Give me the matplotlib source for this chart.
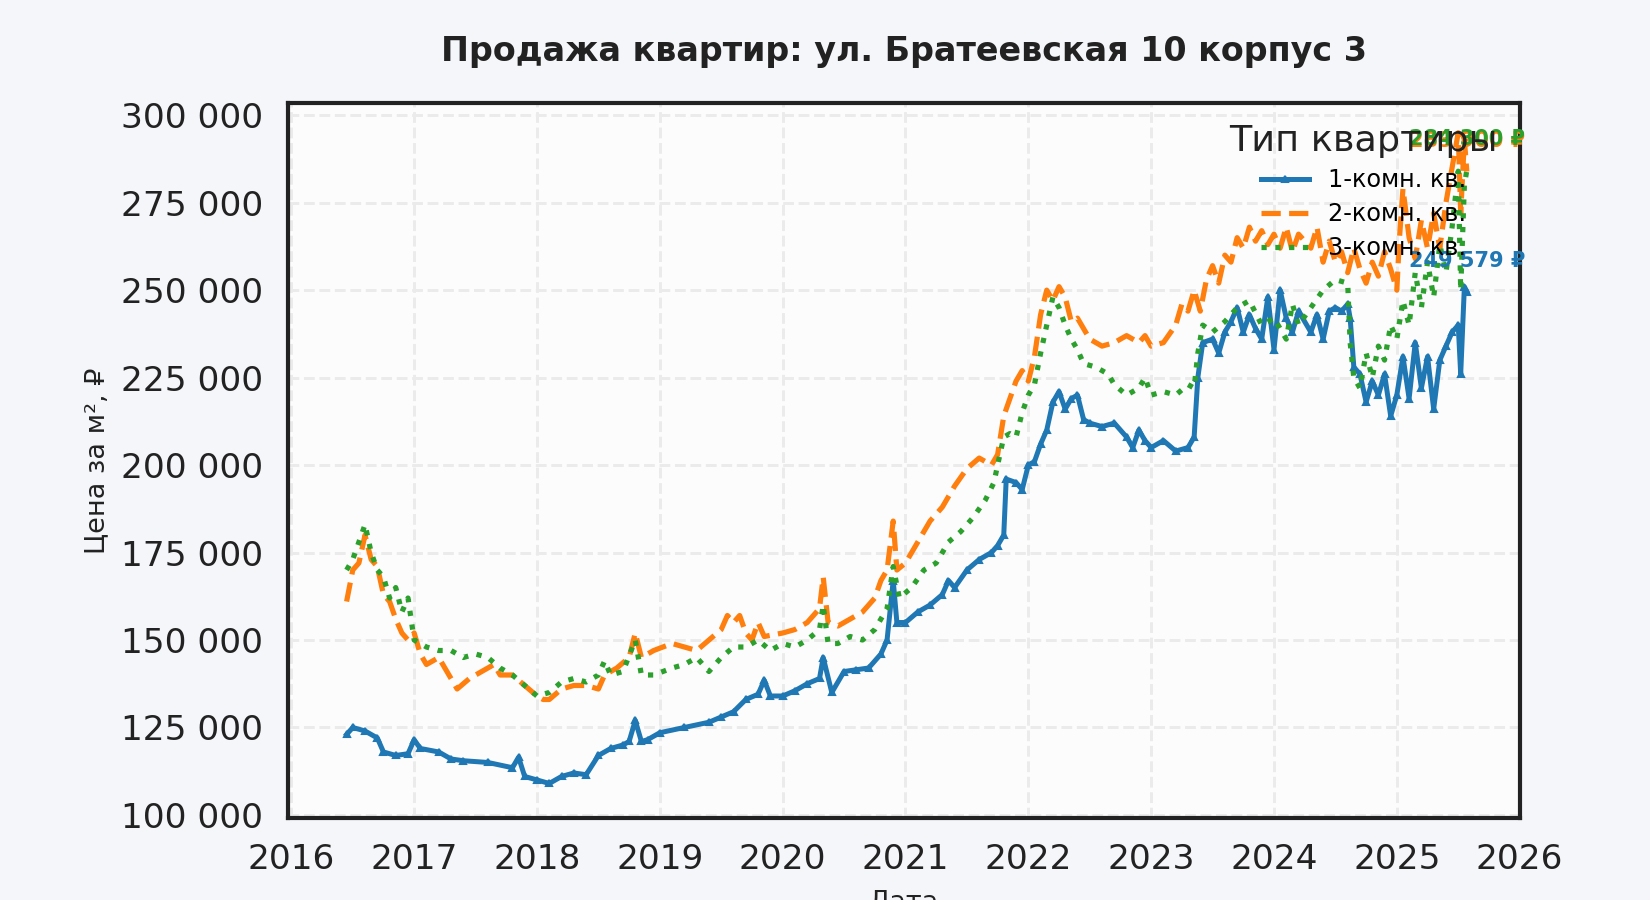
import matplotlib
matplotlib.use("Agg")
import matplotlib.pyplot as plt
from matplotlib.ticker import FuncFormatter, MultipleLocator

# даты в долях года
t1 = [2016.45, 2016.5, 2016.6, 2016.7, 2016.75, 2016.85, 2016.95, 2017.0, 2017.05, 2017.2,
      2017.3, 2017.4, 2017.6, 2017.8, 2017.85, 2017.9, 2018.0, 2018.1, 2018.2, 2018.3,
      2018.4, 2018.5, 2018.6, 2018.7, 2018.75, 2018.8, 2018.85, 2018.9, 2019.0, 2019.2,
      2019.4, 2019.5, 2019.6, 2019.7, 2019.8, 2019.85, 2019.9, 2020.0, 2020.1, 2020.2,
      2020.3, 2020.33, 2020.4, 2020.5, 2020.6, 2020.7, 2020.8, 2020.85, 2020.9, 2020.93,
      2021.0, 2021.1, 2021.2, 2021.3, 2021.35, 2021.4, 2021.5, 2021.6, 2021.7, 2021.75,
      2021.8, 2021.82, 2021.9, 2021.95, 2022.0, 2022.05, 2022.1, 2022.15, 2022.2, 2022.25,
      2022.3, 2022.35, 2022.4, 2022.45, 2022.5, 2022.6, 2022.7, 2022.8, 2022.85, 2022.9,
      2022.95, 2023.0, 2023.1, 2023.2, 2023.3, 2023.35, 2023.38, 2023.42, 2023.5, 2023.55,
      2023.6, 2023.65, 2023.7, 2023.75, 2023.8, 2023.85, 2023.9, 2023.95, 2024.0, 2024.05,
      2024.1, 2024.15, 2024.2, 2024.3, 2024.35, 2024.4, 2024.45, 2024.5, 2024.55, 2024.6,
      2024.62, 2024.65, 2024.7, 2024.75, 2024.8, 2024.85, 2024.9, 2024.95, 2025.0, 2025.05,
      2025.1, 2025.15, 2025.2, 2025.25, 2025.3, 2025.35, 2025.4, 2025.45, 2025.5, 2025.52,
      2025.55, 2025.57]
room1 = [123000, 125000, 124000, 122000, 118000, 117000, 117500, 121500, 119000, 118000,
         116000, 115500, 115000, 113500, 116500, 111000, 110000, 109000, 111000, 112000,
         111500, 117000, 119000, 120000, 121000, 127000, 121000, 121500, 123500, 125000,
         126500, 128000, 129500, 133000, 134500, 138500, 134000, 134000, 135500, 137500,
         139000, 145000, 135000, 141000, 141500, 142000, 146000, 150000, 167000, 155000,
         155000, 158000, 160000, 163000, 167000, 165000, 170000, 173000, 175000, 177000,
         180000, 196000, 195000, 193000, 200000, 201000, 206000, 210000, 218000, 221000,
         216000, 219000, 220000, 213000, 212000, 211000, 212000, 208000, 205000, 210000,
         207000, 205000, 207000, 204000, 205000, 208000, 225000, 235000, 236000, 232000,
         238000, 241000, 245000, 238000, 243000, 239000, 236000, 248000, 233000, 250000,
         242000, 238000, 244000, 238000, 243000, 236000, 244000, 245000, 244000, 246000,
         242000, 228000, 226000, 218000, 224000, 220000, 226000, 214000, 220000, 231000,
         219000, 235000, 222000, 231000, 216000, 230000, 234000, 238000, 240000, 226000,
         251000, 249579]

t2 = [2016.45, 2016.5, 2016.55, 2016.6, 2016.65, 2016.7, 2016.75, 2016.8, 2016.85, 2016.9,
      2016.95, 2017.0, 2017.05, 2017.1, 2017.2, 2017.3, 2017.35, 2017.45, 2017.55, 2017.65,
      2017.7, 2017.8, 2017.9, 2018.0, 2018.05, 2018.1, 2018.2, 2018.3, 2018.4, 2018.5,
      2018.55, 2018.65, 2018.75, 2018.8, 2018.85, 2018.95, 2019.1, 2019.2, 2019.3, 2019.4,
      2019.5, 2019.55, 2019.6, 2019.65, 2019.7, 2019.75, 2019.8, 2019.85, 2020.0, 2020.1,
      2020.2, 2020.3, 2020.33, 2020.37, 2020.45, 2020.55, 2020.65, 2020.75, 2020.8, 2020.85,
      2020.9, 2020.93, 2021.0, 2021.1, 2021.2, 2021.3, 2021.4, 2021.5, 2021.6, 2021.7,
      2021.75, 2021.8, 2021.85, 2021.9, 2021.95, 2022.0, 2022.05, 2022.1, 2022.15, 2022.2,
      2022.25, 2022.3, 2022.35, 2022.4, 2022.5, 2022.6, 2022.7, 2022.8, 2022.9, 2022.95,
      2023.0, 2023.1, 2023.2, 2023.25, 2023.3, 2023.35, 2023.4, 2023.45, 2023.5, 2023.55,
      2023.6, 2023.65, 2023.7, 2023.75, 2023.8, 2023.85, 2023.9, 2023.95, 2024.0, 2024.05,
      2024.1, 2024.15, 2024.2, 2024.3, 2024.35, 2024.4, 2024.45, 2024.5, 2024.55, 2024.6,
      2024.65, 2024.7, 2024.75, 2024.8, 2024.85, 2024.9, 2024.95, 2025.0, 2025.02, 2025.05,
      2025.1, 2025.15, 2025.2, 2025.25, 2025.3, 2025.35, 2025.4, 2025.45, 2025.5, 2025.52,
      2025.55, 2025.57]
room2 = [161000, 170000, 172000, 180000, 173000, 171000, 163000, 161000, 156000, 152000,
         150000, 152000, 146000, 143000, 145000, 139000, 136000, 139000, 141000, 143000,
         140000, 140000, 137000, 134000, 133000, 133000, 136000, 137000, 137000, 136000,
         140000, 142000, 145000, 152000, 145000, 147000, 149000, 148000, 147000, 150000,
         153000, 157000, 155000, 157000, 152000, 150000, 155000, 151000, 152000, 153000,
         155000, 159000, 168000, 155000, 154000, 156000, 158000, 162000, 167000, 170000,
         184000, 170000, 172000, 178000, 184000, 188000, 194000, 199000, 202000, 200000,
         203000, 214000, 219000, 224000, 227000, 224000, 231000, 243000, 250000, 247000,
         251000, 248000, 241000, 242000, 236000, 234000, 235000, 237000, 235000, 237000,
         234000, 235000, 240000, 246000, 244000, 250000, 244000, 253000, 257000, 252000,
         260000, 258000, 265000, 262000, 268000, 264000, 267000, 263000, 266000, 262000,
         268000, 261000, 266000, 262000, 268000, 258000, 264000, 258000, 261000, 255000,
         262000, 256000, 252000, 258000, 254000, 261000, 256000, 250000, 264000, 279000,
         265000, 259000, 270000, 262000, 272000, 262000, 275000, 285000, 295000, 272000,
         293000, 283900]

t3 = [2016.45, 2016.5, 2016.55, 2016.6, 2016.65, 2016.7, 2016.75, 2016.8, 2016.85, 2016.9,
      2016.95, 2017.0, 2017.1, 2017.2, 2017.3, 2017.4, 2017.5, 2017.6, 2017.7, 2017.8,
      2017.9, 2018.0, 2018.1, 2018.2, 2018.3, 2018.4, 2018.5, 2018.55, 2018.6, 2018.7,
      2018.8, 2018.85, 2018.95, 2019.1, 2019.2, 2019.3, 2019.4, 2019.5, 2019.6, 2019.7,
      2019.8, 2019.9, 2020.0, 2020.1, 2020.2, 2020.3, 2020.33, 2020.37, 2020.45, 2020.55,
      2020.65, 2020.75, 2020.85, 2020.9, 2020.95, 2021.05, 2021.15, 2021.25, 2021.35, 2021.45,
      2021.55, 2021.65, 2021.72, 2021.75, 2021.8, 2021.85, 2021.9, 2021.95, 2022.0, 2022.05,
      2022.1, 2022.15, 2022.2, 2022.25, 2022.3, 2022.35, 2022.4, 2022.45, 2022.55, 2022.65,
      2022.7, 2022.8, 2022.9, 2022.95, 2023.0, 2023.1, 2023.2, 2023.3, 2023.35, 2023.38,
      2023.42, 2023.5, 2023.6, 2023.7, 2023.8, 2023.9, 2024.0, 2024.1, 2024.15, 2024.2,
      2024.3, 2024.4, 2024.5, 2024.6, 2024.62, 2024.65, 2024.7, 2024.75, 2024.8, 2024.85,
      2024.9, 2024.95, 2025.0, 2025.05, 2025.1, 2025.15, 2025.2, 2025.25, 2025.3, 2025.35,
      2025.4, 2025.45, 2025.5, 2025.52, 2025.55, 2025.57]
room3 = [170000, 173000, 178000, 183000, 175000, 170000, 168000, 162000, 165000, 158000,
         162000, 150000, 148000, 147000, 147000, 145000, 146000, 145000, 142000, 140000,
         137000, 134000, 135000, 138000, 139000, 138000, 140000, 144000, 140000, 141000,
         150000, 140000, 140000, 142000, 143000, 145000, 141000, 145000, 148000, 148000,
         150000, 147000, 149000, 148000, 150000, 153000, 160000, 149000, 149000, 151000,
         150000, 153000, 159000, 171000, 162000, 165000, 170000, 172000, 178000, 181000,
         185000, 190000, 195000, 200000, 208000, 209000, 208000, 215000, 220000, 223000,
         232000, 240000, 248000, 245000, 240000, 236000, 233000, 229000, 228000, 226000,
         223000, 220000, 222000, 225000, 220000, 221000, 220000, 223000, 222000, 232000,
         240000, 238000, 241000, 245000, 247000, 240000, 242000, 236000, 246000, 240000,
         245000, 250000, 253000, 252000, 235000, 225000, 222000, 232000, 225000, 234000,
         230000, 240000, 236000, 247000, 240000, 255000, 245000, 258000, 248000, 263000,
         255000, 268000, 284000, 250000, 280000, 284300]

labels = ['1-комн. кв.', '2-комн. кв.', '3-комн. кв.']
colors = ['#1f77b4', '#ff7f0e', '#2ca02c']
years = list(range(2016, 2027))

fig = plt.figure(figsize=(11, 6), dpi=150, facecolor='#f5f6fa')
ax = fig.add_axes([0.1747, 0.091, 0.7463, 0.795])
ax.set_facecolor('#fcfcfd')

ax.plot(t1, room1, color=colors[0], lw=2.4, marker='^', markersize=3, label=labels[0])
ax.plot(t2, room2, color=colors[1], lw=2.5, ls='--', label=labels[1])
ax.plot(t3, room3, color=colors[2], lw=2.5, ls=':', label=labels[2])

def fmt_rub(v):
    return f'{v:,.0f}'.replace(',', ' ')

# подписи последних значений
for t, s, c in [(t2, room2, colors[1]), (t3, room3, colors[2]), (t1, room1, colors[0])]:
    ax.annotate(fmt_rub(s[-1]) + ' ₽', xy=(t[-1], s[-1]), xytext=(0, 10),
                textcoords='offset points', ha='center', va='bottom',
                fontsize=10, fontweight='bold', color=c)

ax.set_xlim(2015.975, 2026)
ax.set_ylim(99100, 303600)
ax.set_xticks(years)
ax.xaxis.set_major_formatter(FuncFormatter(lambda v, p: f'{int(round(v))}'))
ax.yaxis.set_major_locator(MultipleLocator(25000))
ax.yaxis.set_major_formatter(FuncFormatter(lambda v, p: fmt_rub(v)))
ax.tick_params(labelsize=16.5, length=0, pad=12, colors='#222222')

ax.grid(True, ls='--', color='#ebebeb', lw=1.4)
for sp in ax.spines.values():
    sp.set_color('#222222')
    sp.set_linewidth(2)

ax.set_title('Продажа квартир: ул. Братеевская 10 корпус 3', fontsize=16,
             fontweight='bold', color='#222222', pad=20)
ax.set_ylabel('Цена за м², ₽', fontsize=13, color='#222222', labelpad=5)
ax.set_xlabel('Дата', fontsize=13, color='#222222', labelpad=6)

leg = ax.legend(title='Тип квартиры', loc='upper right', frameon=False,
                fontsize=11.5, title_fontsize=17.5, labelspacing=0.42)
leg.get_title().set_color('#222222')

fig.savefig('out.png', dpi=150, facecolor=fig.get_facecolor())
